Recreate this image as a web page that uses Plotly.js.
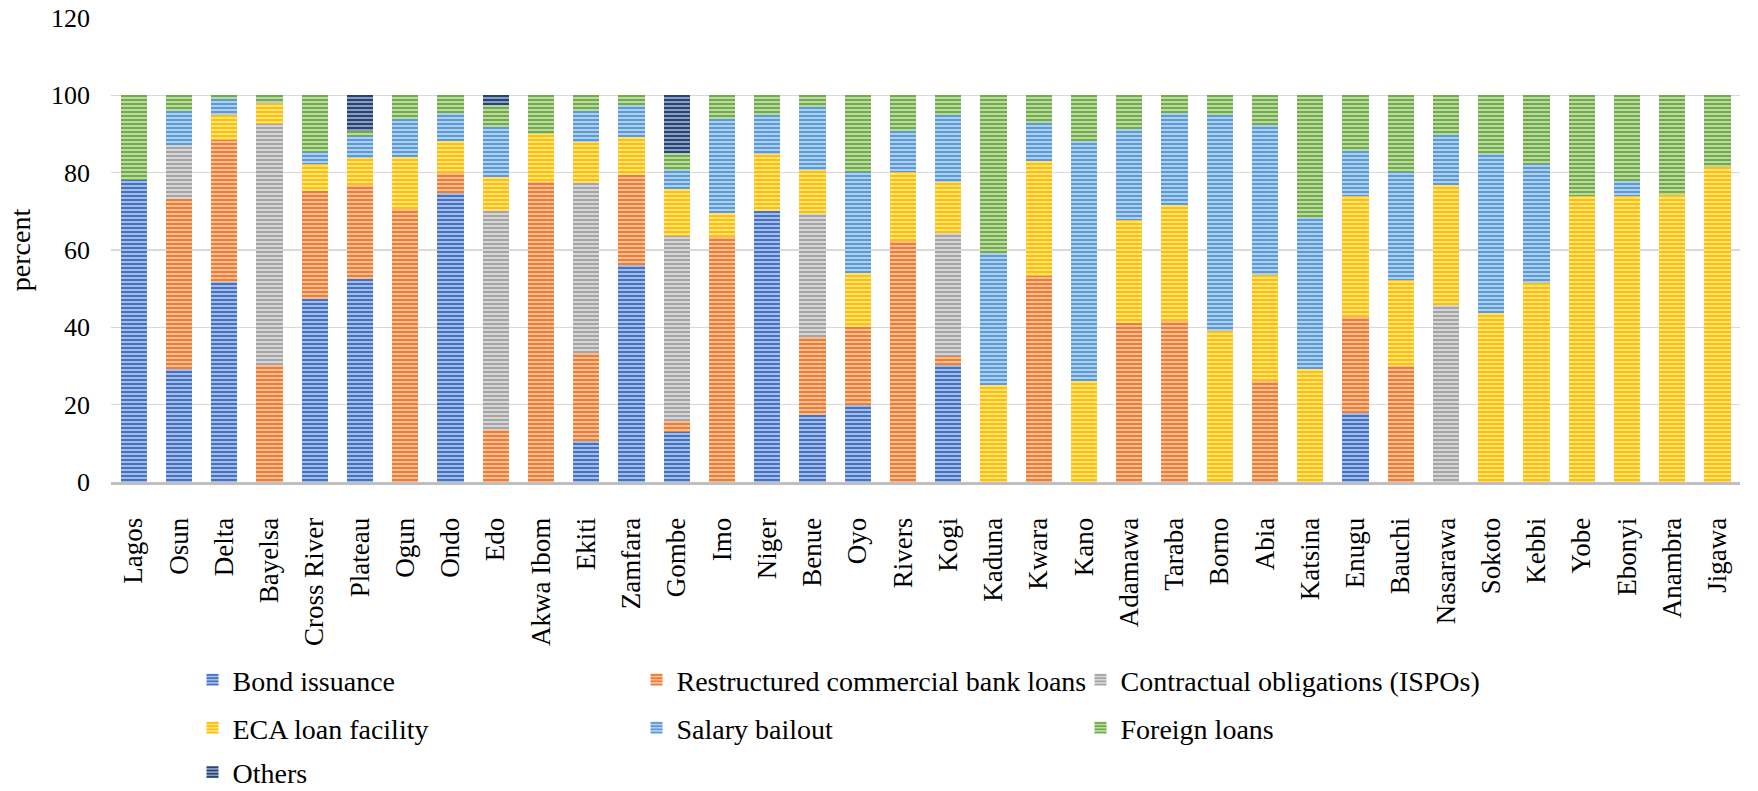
<!DOCTYPE html>
<html>
<head>
<meta charset="utf-8">
<script src="https://cdn.plot.ly/plotly-3.0.1.min.js"></script>
<style>html,body{margin:0;padding:0;background:#fff;}#chart{width:1758px;height:791px;}</style>
</head>
<body>
<div id="chart"></div>
<script>
var categories = ["Lagos","Osun","Delta","Bayelsa","Cross River","Plateau","Ogun","Ondo","Edo","Akwa Ibom","Ekiti","Zamfara","Gombe","Imo","Niger","Benue","Oyo","Rivers","Kogi","Kaduna","Kwara","Kano","Adamawa","Taraba","Borno","Abia","Katsina","Enugu","Bauchi","Nasarawa","Sokoto","Kebbi","Yobe","Ebonyi","Anambra","Jigawa"];

var bondIssuance = [78.1,29.2,51.8,0,47.3,52.5,0,74.8,0,0,10.7,56.0,12.9,0,70.2,17.2,19.8,0,30.3,0,0,0,0,0,0,0,0,17.8,0,0,0,0,0,0,0,0];
var restructuredLoans = [0,43.9,36.6,30.3,28.0,24.3,70.5,5.0,13.5,77.5,22.6,23.5,3.0,63.4,0,20.3,20.3,62.2,2.2,0,53.2,0,41.1,41.6,0,26.0,0,24.9,29.9,0,0,0,0,0,0,0];
var contractualObligations = [0,14.0,0,62.4,0,0,0,0,56.6,0,43.9,0,47.6,0,0,31.8,0,0,31.9,0,0,0,0,0,0,0,0,0,0,45.9,0,0,0,0,0,0];
var ecaLoanFacility = [0,0,6.5,5.4,6.9,7.1,13.6,8.4,8.8,12.6,10.8,9.6,12.3,6.2,14.5,11.5,14.0,18.1,13.1,25.2,29.7,26.2,26.7,30.0,39.1,27.6,29.2,31.2,22.4,30.8,43.7,51.5,73.9,73.9,74.1,81.5];
var salaryBailout = [0,8.8,4.1,0.5,3.2,5.6,9.9,7.3,12.8,0,7.9,8.5,4.8,24.4,10.3,16.1,26.2,10.6,17.3,33.9,9.9,61.9,23.5,23.8,55.9,38.6,39.1,11.8,27.8,13.0,41.0,30.7,0,3.9,0,0];
var foreignLoans = [21.9,4.1,1.0,1.4,14.6,1.3,6.0,4.5,5.7,9.9,4.1,2.4,4.5,6.0,5.0,3.1,19.7,9.1,5.2,40.9,7.2,11.9,8.7,4.6,5.0,7.8,31.7,14.3,19.9,10.3,15.3,17.8,26.1,22.2,25.9,18.5];
var others = [0,0,0,0,0,9.2,0,0,2.6,0,0,0,14.9,0,0,0,0,0,0,0,0,0,0,0,0,0,0,0,0,0,0,0,0,0,0,0];

var seriesNames = ["Bond issuance","Restructured commercial bank loans","Contractual obligations (ISPOs)","ECA loan facility","Salary bailout","Foreign loans","Others"];
var seriesValues = [bondIssuance, restructuredLoans, contractualObligations, ecaLoanFacility, salaryBailout, foreignLoans, others];
var mainColors = ["#4472C4","#ED7D31","#A5A5A5","#FFC000","#5B9BD5","#70AD47","#264478"];
var lightColors = ["#A7BCE4","#F6BE98","#D6D6D6","#FFE184","#B0CFEC","#BBD8A6","#8C9DBB"];
var legendIds = ["legend","legend","legend","legend2","legend2","legend2","legend3"];

var FONT = "Liberation Serif, DejaVu Serif, serif";

var traces = seriesNames.map(function(name, i) {
  return {
    type: "bar",
    name: name,
    x: categories,
    y: seriesValues[i],
    legend: legendIds[i],
    marker: {
      color: mainColors[i],
      line: {width: 0},
      pattern: {shape: "-", size: 4, solidity: 0.5, fgcolor: mainColors[i], bgcolor: lightColors[i], fillmode: "replace"}
    },
    hoverinfo: "x+y+name"
  };
});

function legendCfg(y) {
  return {
    orientation: "h",
    xref: "container", yref: "container",
    x: 0.1095, xanchor: "left",
    y: y, yanchor: "middle",
    entrywidth: 399, entrywidthmode: "pixels",
    font: {family: FONT, size: 28, color: "#000"},
    bgcolor: "rgba(0,0,0,0)",
    traceorder: "normal"
  };
}

var layout = {
  width: 1758,
  height: 791,
  margin: {l: 111, r: 18, t: 18, b: 309},
  paper_bgcolor: "#fff",
  plot_bgcolor: "#fff",
  barmode: "stack",
  bargap: 0.42,
  font: {family: FONT, color: "#000"},
  showlegend: true,
  xaxis: {
    type: "category",
    tickangle: -90,
    tickfont: {family: FONT, size: 27, color: "#000"},
    ticks: "",
    showline: true,
    linecolor: "#BFBFBF",
    linewidth: 3,
    showgrid: false,
    automargin: false,
    ticklabelstandoff: 22
  },
  yaxis: {
    range: [0, 120],
    dtick: 20,
    tickfont: {family: FONT, size: 26, color: "#000"},
    ticks: "",
    showline: false,
    showgrid: true,
    gridcolor: "#D9D9D9",
    gridwidth: 1.5,
    zeroline: false,
    automargin: false,
    ticklabelstandoff: 20,
    title: {text: "percent", font: {family: FONT, size: 28, color: "#000"}, standoff: 12}
  },
  legend: legendCfg(0.1403),
  legend2: legendCfg(0.0796),
  legend3: legendCfg(0.0235)
};

Plotly.newPlot("chart", traces, layout, {displayModeBar: false, staticPlot: true});
</script>
</body>
</html>
